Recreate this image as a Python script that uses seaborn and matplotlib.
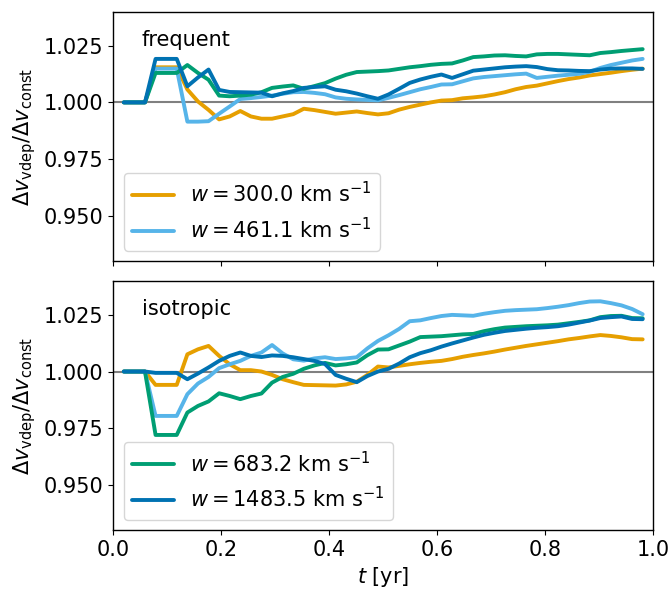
import numpy as np
import pandas as pd
import matplotlib
matplotlib.use("Agg")
import matplotlib.pyplot as plt
import seaborn as sns

# time grid [yr]
t = [0.0196, 0.0392, 0.0588, 0.0784, 0.0980, 0.1176, 0.1373, 0.1569, 0.1765, 0.1961,
     0.2157, 0.2353, 0.2549, 0.2745, 0.2941, 0.3137, 0.3333, 0.3529, 0.3725, 0.3922,
     0.4118, 0.4314, 0.4510, 0.4706, 0.4902, 0.5098, 0.5294, 0.5490, 0.5686, 0.5882,
     0.6078, 0.6275, 0.6471, 0.6667, 0.6863, 0.7059, 0.7255, 0.7451, 0.7647, 0.7843,
     0.8039, 0.8235, 0.8431, 0.8627, 0.8824, 0.9020, 0.9216, 0.9412, 0.9608, 0.9804]

widths = ["300.0", "461.1", "683.2", "1483.5"]
colors = ["#E69F00", "#56B4E9", "#009E73", "#0072B2"]

# frequent scattering
freq_300 = [1.0, 1.0, 1.0, 1.0155, 1.0155, 1.0155, 1.0057, 1.0004, 0.9967, 0.9925,
            0.9938, 0.9962, 0.9938, 0.9928, 0.9928, 0.9938, 0.9948, 0.9972, 0.9966, 0.9958,
            0.9950, 0.9955, 0.9960, 0.9953, 0.9947, 0.9952, 0.9968, 0.9980, 0.9990, 1.0000,
            1.0008, 1.0010, 1.0018, 1.0022, 1.0027, 1.0035, 1.0045, 1.0058, 1.0068, 1.0074,
            1.0084, 1.0094, 1.0103, 1.0110, 1.0119, 1.0125, 1.0131, 1.0138, 1.0144, 1.0149]
freq_461 = [1.0, 1.0, 1.0, 1.0149, 1.0149, 1.0149, 0.9915, 0.9915, 0.9917, 0.9950,
            0.9982, 1.0015, 1.0019, 1.0024, 1.0030, 1.0038, 1.0045, 1.0046, 1.0042, 1.0036,
            1.0022, 1.0016, 1.0013, 1.0011, 1.0009, 1.0020, 1.0032, 1.0045, 1.0058, 1.0068,
            1.0079, 1.0080, 1.0093, 1.0106, 1.0112, 1.0116, 1.0120, 1.0124, 1.0127, 1.0108,
            1.0113, 1.0118, 1.0122, 1.0126, 1.0135, 1.0152, 1.0165, 1.0175, 1.0185, 1.0192]
freq_683 = [1.0, 1.0, 1.0, 1.0130, 1.0130, 1.0130, 1.0165, 1.0130, 1.0100, 1.0030,
            1.0027, 1.0030, 1.0034, 1.0045, 1.0064, 1.0070, 1.0075, 1.0060, 1.0072, 1.0085,
            1.0105, 1.0122, 1.0134, 1.0136, 1.0138, 1.0141, 1.0148, 1.0155, 1.0160, 1.0166,
            1.0170, 1.0172, 1.0185, 1.0200, 1.0203, 1.0207, 1.0208, 1.0205, 1.0203, 1.0212,
            1.0214, 1.0214, 1.0212, 1.0210, 1.0208, 1.0218, 1.0222, 1.0227, 1.0231, 1.0235]
freq_1483 = [1.0, 1.0, 1.0, 1.0192, 1.0192, 1.0192, 1.0071, 1.0110, 1.0145, 1.0055,
             1.0046, 1.0045, 1.0044, 1.0043, 1.0027, 1.0040, 1.0050, 1.0064, 1.0068, 1.0071,
             1.0056, 1.0049, 1.0039, 1.0027, 1.0016, 1.0035, 1.0060, 1.0086, 1.0101, 1.0113,
             1.0123, 1.0108, 1.0124, 1.0140, 1.0145, 1.0150, 1.0155, 1.0158, 1.0160, 1.0156,
             1.0147, 1.0142, 1.0141, 1.0139, 1.0138, 1.0145, 1.0149, 1.0150, 1.0150, 1.0148]

# isotropic scattering
iso_300 = [1.0, 1.0, 1.0, 0.9941, 0.9941, 0.9941, 1.0076, 1.0098, 1.0113, 1.0069,
           1.0032, 1.0006, 1.0006, 1.0000, 0.9985, 0.9966, 0.9953, 0.9941, 0.9940, 0.9939,
           0.9938, 0.9943, 0.9955, 0.9985, 1.0022, 1.0018, 1.0025, 1.0032, 1.0038, 1.0043,
           1.0047, 1.0055, 1.0065, 1.0073, 1.0080, 1.0088, 1.0097, 1.0105, 1.0113, 1.0120,
           1.0127, 1.0134, 1.0142, 1.0148, 1.0155, 1.0161, 1.0157, 1.0151, 1.0143, 1.0142]
iso_461 = [1.0, 1.0, 1.0, 0.9804, 0.9804, 0.9804, 0.9900, 0.9947, 0.9976, 1.0015,
           1.0032, 1.0047, 1.0069, 1.0084, 1.0117, 1.0080, 1.0054, 1.0048, 1.0058, 1.0063,
           1.0055, 1.0058, 1.0063, 1.0102, 1.0135, 1.0160, 1.0188, 1.0222, 1.0226, 1.0236,
           1.0245, 1.0250, 1.0248, 1.0246, 1.0255, 1.0262, 1.0268, 1.0271, 1.0273, 1.0275,
           1.0280, 1.0286, 1.0293, 1.0302, 1.0309, 1.0310, 1.0302, 1.0292, 1.0276, 1.0253]
iso_683 = [1.0, 1.0, 1.0, 0.9720, 0.9720, 0.9720, 0.9819, 0.9848, 0.9868, 0.9904,
           0.9892, 0.9878, 0.9892, 0.9903, 0.9951, 0.9976, 0.9990, 1.0012, 1.0027, 1.0038,
           1.0027, 1.0032, 1.0040, 1.0072, 1.0097, 1.0098, 1.0115, 1.0132, 1.0152, 1.0154,
           1.0156, 1.0160, 1.0164, 1.0166, 1.0178, 1.0187, 1.0194, 1.0197, 1.0200, 1.0202,
           1.0204, 1.0207, 1.0213, 1.0219, 1.0226, 1.0240, 1.0245, 1.0246, 1.0236, 1.0235]
iso_1483 = [1.0, 1.0, 1.0, 0.9994, 0.9994, 0.9994, 0.9966, 0.9991, 1.0018, 1.0047,
            1.0069, 1.0084, 1.0069, 1.0064, 1.0071, 1.0069, 1.0063, 1.0055, 1.0047, 1.0033,
            0.9985, 0.9968, 0.9953, 0.9980, 1.0000, 1.0012, 1.0035, 1.0063, 1.0081, 1.0094,
            1.0110, 1.0124, 1.0137, 1.0150, 1.0162, 1.0171, 1.0179, 1.0184, 1.0189, 1.0193,
            1.0196, 1.0200, 1.0207, 1.0216, 1.0225, 1.0236, 1.0240, 1.0243, 1.0232, 1.0231]

panels = [
    ("frequent", [freq_300, freq_461, freq_683, freq_1483], [0, 1]),
    ("isotropic", [iso_300, iso_461, iso_683, iso_1483], [2, 3]),
]

sns.set_style("ticks")
plt.rcParams.update({
    "font.family": ["DejaVu Sans"],
    "mathtext.fontset": "dejavusans",
    "font.size": 15,
    "axes.labelsize": 15,
    "xtick.labelsize": 15,
    "ytick.labelsize": 15,
    "legend.fontsize": 15,
    "axes.edgecolor": "black",
    "xtick.color": "black",
    "ytick.color": "black",
    "text.color": "black",
    "axes.labelcolor": "black",
})

fig, axes = plt.subplots(2, 1, figsize=(6.7, 5.89), dpi=100, sharex=True, sharey=True)
fig.subplots_adjust(left=0.169, right=0.975, top=0.98, bottom=0.10, hspace=0.08)

for ax, (name, series, shown) in zip(axes, panels):
    ax.axhline(1.0, color="gray", lw=1.5, zorder=1)
    for i, (w, vals, col) in enumerate(zip(widths, series, colors)):
        df = pd.DataFrame({"t": t, "ratio": vals})
        lab = rf"$w = {w}$ km s$^{{-1}}$" if i in shown else None
        sns.lineplot(data=df, x="t", y="ratio", color=col, lw=2.8, ax=ax,
                     label=lab, zorder=2 + i)
    ax.text(0.053, 0.888, name, transform=ax.transAxes, ha="left", va="center",
            fontsize=15)
    ax.legend(loc="lower left")
    ax.set_ylabel(r"$\Delta v_\mathrm{vdep}/\Delta v_\mathrm{const}$")
    ax.set_xlabel("")
    for s in ax.spines.values():
        s.set_visible(True)
        s.set_linewidth(1.0)

axes[0].set_xlim(0, 1)
axes[0].set_ylim(0.93, 1.04)
axes[0].set_yticks([0.95, 0.975, 1.0, 1.025])
axes[0].yaxis.set_major_formatter(matplotlib.ticker.FormatStrFormatter("%.3f"))
axes[1].set_xticks([0.0, 0.2, 0.4, 0.6, 0.8, 1.0])
axes[1].xaxis.set_major_formatter(matplotlib.ticker.FormatStrFormatter("%.1f"))
axes[1].set_xlabel(r"$t$ [yr]")

fig.savefig("out.png", dpi=100)
